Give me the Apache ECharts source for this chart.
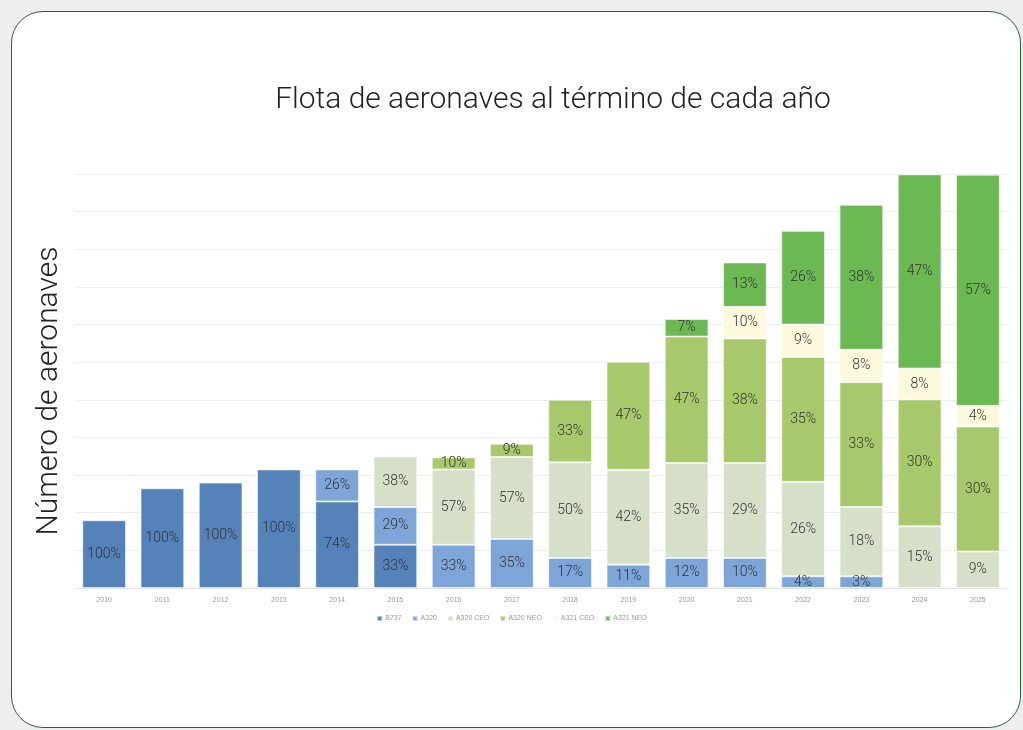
<!DOCTYPE html>
<html>
<head>
<meta charset="utf-8">
<script src="https://cdn.jsdelivr.net/npm/echarts@6/dist/echarts.min.js"></script>
<style>
  html, body { margin: 0; padding: 0; background: #eeeeee; width: 1023px; height: 730px; overflow: hidden; }
  #frame {
    position: absolute; left: 11px; top: 11px; width: 1008px; height: 715px;
    background: #ffffff; border: 1.5px solid #2f5f3a; border-radius: 32px;
  }
  #chart { position: absolute; left: 0; top: 0; width: 1023px; height: 730px; }
</style>
</head>
<body>
<div id="frame"></div>
<div id="chart"></div>
<script>
// años
const years = ['2010', '2011', '2012', '2013', '2014', '2015', '2016', '2017',
  '2018', '2019', '2020', '2021', '2022', '2023', '2024', '2025'];

// número de aeronaves por tipo
const b737 = [18, 26.5, 28, 31.5, 23, 11.5, null, null, null, null, null, null, null, null, null, null];
const a320 = [null, null, null, null, 8.5, 10, 11.5, 13, 8, 6.2, 8, 8, 3.1, 3.1, null, null];
const a320ceo = [null, null, null, null, null, 13.5, 20, 21.8, 25.4, 25.2, 25.2, 25.2, 25.1, 18.4, 16.4, 9.7];
const a320neo = [null, null, null, null, null, null, 3.2, 3.5, 16.6, 28.7, 33.6, 33.1, 33.2, 33.2, 33.7, 33.2];
const a321ceo = [null, null, null, null, null, null, null, null, null, null, null, 8.4, 8.6, 8.6, 8.2, 5.5];
const a321neo = [null, null, null, null, null, null, null, null, null, null, 4.7, 11.8, 24.9, 38.5, 51.6, 61.4];

// porcentajes mostrados en cada segmento
const b737Pct = [100, 100, 100, 100, 74, 33, null, null, null, null, null, null, null, null, null, null];
const a320Pct = [null, null, null, null, 26, 29, 33, 35, 17, 11, 12, 10, 4, 3, null, null];
const a320ceoPct = [null, null, null, null, null, 38, 57, 57, 50, 42, 35, 29, 26, 18, 15, 9];
const a320neoPct = [null, null, null, null, null, null, 10, 9, 33, 47, 47, 38, 35, 33, 30, 30];
const a321ceoPct = [null, null, null, null, null, null, null, null, null, null, null, 10, 9, 8, 8, 4];
const a321neoPct = [null, null, null, null, null, null, null, null, null, null, 7, 13, 26, 38, 47, 57];

const mkSeries = (name, data, pct, color) => ({
  name: name,
  type: 'bar',
  stack: 'total',
  barWidth: '75%',
  data: data,
  itemStyle: { color: color, borderColor: 'rgba(255,255,255,0.55)', borderWidth: 1 },
  label: {
    show: true,
    position: 'inside',
    color: '#333',
    fontSize: 14,
    fontWeight: 300,
    fontFamily: 'Roboto',
    formatter: (p) => pct[p.dataIndex] == null ? '' : pct[p.dataIndex] + '%'
  }
});

const myChart = echarts.init(document.getElementById('chart'));
myChart.setOption({
  backgroundColor: 'transparent',
  animation: false,
  title: {
    text: 'Flota de aeronaves al término de cada año',
    left: 548,
    top: 80,
    textAlign: 'center',
    textStyle: { fontFamily: 'Roboto', fontWeight: 300, fontSize: 30, color: '#222' }
  },
  grid: { left: 75, right: 16, top: 174, bottom: 142 },
  legend: {
    bottom: 103,
    left: 'center',
    itemWidth: 5,
    itemHeight: 5,
    itemGap: 10,
    icon: 'rect',
    textStyle: { fontSize: 7, color: '#999', padding: [0, 0, 0, -2] },
    data: ['B737', 'A320', 'A320 CEO', 'A320 NEO', 'A321 CEO', 'A321 NEO']
  },
  xAxis: {
    type: 'category',
    data: years,
    axisTick: { show: false },
    axisLine: { lineStyle: { color: '#e4e4e4' } },
    axisLabel: { fontSize: 7, color: '#999', margin: 9 }
  },
  yAxis: {
    type: 'value',
    min: 0,
    max: 110,
    interval: 10,
    name: 'Número de aeronaves',
    nameLocation: 'middle',
    nameGap: 11,
    nameTextStyle: {
      fontFamily: 'Roboto', fontWeight: 300, fontSize: 30, color: '#222',
      padding: [0, 20, 0, 0]
    },
    axisLabel: { show: false },
    axisLine: { show: false },
    axisTick: { show: false },
    splitLine: { lineStyle: { color: '#ececec' } }
  },
  series: [
    mkSeries('B737', b737, b737Pct, '#5582b8'),
    mkSeries('A320', a320, a320Pct, '#7ea5d8'),
    mkSeries('A320 CEO', a320ceo, a320ceoPct, '#d6e0c9'),
    mkSeries('A320 NEO', a320neo, a320neoPct, '#a7c86b'),
    mkSeries('A321 CEO', a321ceo, a321ceoPct, '#fcf9dc'),
    mkSeries('A321 NEO', a321neo, a321neoPct, '#6cb852')
  ]
});
window.onresize = function () {
  myChart.resize();
};
</script>
</body>
</html>
